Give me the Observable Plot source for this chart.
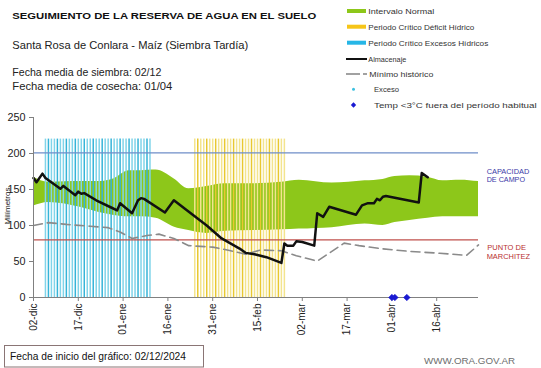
<!DOCTYPE html>
<html><head><meta charset="utf-8">
<script src="https://cdn.jsdelivr.net/npm/d3@7"></script>
<script src="https://cdn.jsdelivr.net/npm/@observablehq/plot@0.6"></script>
<style>
body{margin:0;background:#fff;}
#wrap{position:relative;width:541px;height:368px;overflow:hidden;font-family:"Liberation Sans",Arial,sans-serif;}
#wrap svg{position:absolute;left:0;top:0;}
</style></head><body><div id="wrap"></div>
<script>
// ---------- DATA ----------
const titulo = "SEGUIMIENTO DE LA RESERVA DE AGUA  EN EL SUELO";
const subtitulo = "Santa Rosa de Conlara - Maíz (Siembra Tardía)";
const fechaSiembra = "Fecha media de siembra: 02/12";
const fechaCosecha = "Fecha media de cosecha: 01/04";
const fechaInicio = "Fecha de inicio del gráfico:  02/12/2024";
const fuente = "WWW.ORA.GOV.AR";
const ejeY = "Milímetros";

const xInicio = "2024-12-02";
const xFin = "2025-04-30";

const tickFechas = ["2024-12-02","2024-12-17","2025-01-01","2025-01-16","2025-01-31","2025-02-15","2025-03-02","2025-03-17","2025-04-01","2025-04-16"];
const tickEtiquetas = ["02-dic","17-dic","01-ene","16-ene","31-ene","15-feb","02-mar","17-mar","01-abr","16-abr"];
const yTicks = [0,50,100,150,200,250];

const bandaFechas = ["2024-12-02","2024-12-07","2024-12-18","2024-12-24","2024-12-29","2025-01-03","2025-01-07","2025-01-12","2025-01-18","2025-01-23","2025-01-29","2025-02-04","2025-02-14","2025-02-23","2025-03-01","2025-03-12","2025-03-23","2025-03-29","2025-04-02","2025-04-07","2025-04-13","2025-04-18","2025-04-24","2025-04-30"];
const bandaMax = [167,160,161,161,165,176,176,177,165,151,154,158,158,160,163,159,162,164,168,169,167,162,163,161];
const bandaMin = [127,132,125,118,114,112,112,110,98,93,89,92,93,94,95,97,102,100,104,107,110,112,112,112];

const almacenajeFechas = ["2024-12-02","2024-12-03","2024-12-05","2024-12-06","2024-12-11","2024-12-12","2024-12-16","2024-12-17","2024-12-18","2024-12-19","2024-12-23","2024-12-28","2024-12-30","2024-12-31","2025-01-04","2025-01-06","2025-01-07","2025-01-08","2025-01-15","2025-01-18","2025-01-23","2025-01-29","2025-02-03","2025-02-09","2025-02-11","2025-02-14","2025-02-18","2025-02-23","2025-02-24","2025-02-25","2025-02-27","2025-02-28","2025-03-02","2025-03-06","2025-03-07","2025-03-09","2025-03-11","2025-03-20","2025-03-22","2025-03-24","2025-03-26","2025-03-27","2025-03-28","2025-03-29","2025-03-30","2025-04-10","2025-04-11","2025-04-13"];
const almacenajeMm = [166,160,172,166,151,155,142,147,144,145,135,125,121,131,117,135,138,137,118,135,119,100,82,68,62,60,56,48,75,72,72,78,77,72,117,112,126,115,128,131,131,137,135,140,141,132,173,167];

const minimoFechas = ["2024-12-02","2024-12-07","2024-12-13","2024-12-21","2024-12-27","2024-12-31","2025-01-04","2025-01-09","2025-01-13","2025-01-18","2025-01-23","2025-01-31","2025-02-06","2025-02-11","2025-02-16","2025-02-23","2025-02-28","2025-03-07","2025-03-16","2025-03-21","2025-03-28","2025-04-07","2025-04-17","2025-04-26","2025-04-30"];
const minimoMm = [100,104,101.5,99,97,91,82,86,88,82,72,70,65,60,66,65,58,50.5,75.5,72,68,64,61.5,58.5,73];

const excesoPeriodo = ["2024-12-06","2025-01-10"];
const deficitPeriodo = ["2025-01-25","2025-02-24"];
const periodoTope = 220;
const tempFechas = ["2025-04-01","2025-04-02","2025-04-06"];
const excesoFechas = [];
const capacidadCampo = 201;
const puntoMarchitez = 80;

const leyenda = ["Intervalo Normal","Periodo Crítico Déficit Hídrico","Periodo Crítico Excesos Hídricos","Almacenaje","Mínimo histórico","Exceso","Temp <3°C fuera del período habitual"];

// ---------- BUILD ----------
const W = 541, H = 368;
const parse = s => new Date(s + "T00:00:00Z");
const banda = bandaFechas.map((f,i)=>({date:parse(f), hi:bandaMax[i], lo:bandaMin[i]}));
const almacenaje = almacenajeFechas.map((f,i)=>({date:parse(f), v:almacenajeMm[i]}));
const minimo = minimoFechas.map((f,i)=>({date:parse(f), v:minimoMm[i]}));
const temp = tempFechas.map(f=>({date:parse(f)}));
const exceso = excesoFechas.map(f=>({date:parse(f)}));
const dias = (a,b) => d3.utcDay.range(parse(a), d3.utcDay.offset(parse(b),1));
const diasExc = dias(...excesoPeriodo);
const diasDef = dias(...deficitPeriodo);
const ticks = tickFechas.map(parse);
const tickMap = new Map(ticks.map((d,i)=>[+d, tickEtiquetas[i]]));

const chart = Plot.plot({
  width: W, height: H,
  marginLeft: 33, marginRight: 63, marginTop: 117, marginBottom: 71,
  style: {fontFamily: '"Liberation Sans", Arial, sans-serif', background: "transparent", color: "#222"},
  x: {type: "utc", domain: [parse(xInicio), parse(xFin)]},
  y: {domain: [0, 250]},
  marks: [
    Plot.areaY(banda, {x: "date", y1: "lo", y2: "hi", fill: "#8dc71a", curve: "monotone-x"}),
    Plot.ruleX(diasExc.filter((d,i)=>i%3!==1), {x: d=>d, y1: 0, y2: periodoTope, stroke: "#80d4e9", strokeWidth: 1.5}),
    Plot.ruleX(diasExc.filter((d,i)=>i%3===1), {x: d=>d, y1: 0, y2: periodoTope, stroke: "#36b4d8", strokeWidth: 1.5}),
    Plot.ruleX(diasDef.filter((d,i)=>i%3!==1), {x: d=>d, y1: 0, y2: periodoTope, stroke: "#f3e48e", strokeWidth: 1.5}),
    Plot.ruleX(diasDef.filter((d,i)=>i%3===1), {x: d=>d, y1: 0, y2: periodoTope, stroke: "#e8c830", strokeWidth: 1.5}),
    Plot.ruleY([capacidadCampo], {stroke: "#6f8ec8", strokeWidth: 1.2}),
    Plot.ruleY([puntoMarchitez], {stroke: "#c0504d", strokeWidth: 1.2}),
    Plot.line(minimo, {x: "date", y: "v", stroke: "#8a8a8a", strokeWidth: 1.6, strokeDasharray: "9,5"}),
    Plot.line(almacenaje, {x: "date", y: "v", stroke: "#111", strokeWidth: 2.5, strokeLinejoin: "round"}),
    Plot.ruleX([parse(xInicio)], {stroke: "#808080"}),
    Plot.ruleY([0], {stroke: "#808080"}),
    Plot.axisY({ticks: yTicks, tickSize: 4, tickPadding: 4, fontSize: 10.8, label: null, stroke: "#808080"}),
    Plot.axisX({ticks: ticks, tickFormat: d => tickMap.get(+d), tickRotate: -90, tickSize: 4, tickPadding: 2, fontSize: 10, label: null, stroke: "#808080"}),
    Plot.dot(exceso, {x: "date", y: 0, r: 1.5, fill: "#3cc0e0"}),
    Plot.dot(temp, {x: "date", y: 0, symbol: "diamond2", r: 3, fill: "#1a1ad2", stroke: "#1a1ad2", strokeWidth: 0.5})
  ]
});
document.getElementById("wrap").appendChild(chart);

// ---------- TEXT OVERLAY ----------
const ov = d3.select("#wrap").append("svg").attr("width", W).attr("height", H)
  .style("font-family", '"Liberation Sans", Arial, sans-serif').style("pointer-events","none");
function txt(x, y, s, o = {}) {
  const t = ov.append("text").attr("x", x).attr("y", y).text(s)
    .attr("font-size", o.size || 10).attr("fill", o.fill || "#222")
    .attr("font-weight", o.weight || "normal");
  if (o.len) t.attr("textLength", o.len).attr("lengthAdjust", "spacingAndGlyphs");
  if (o.anchor) t.attr("text-anchor", o.anchor);
  if (o.transform) t.attr("transform", o.transform);
  return t;
}
txt(12.3, 18.5, titulo, {size: 9.8, weight: "bold", fill: "#111", len: 304});
txt(12.3, 49, subtitulo, {size: 11, len: 236});
txt(12.3, 76, fechaSiembra, {size: 11, len: 149});
txt(12.3, 89.5, fechaCosecha, {size: 11, len: 160});

// legend
const ly = [11, 26.7, 42.7, 59, 74, 89.3, 105];
const lx = [368.3, 368.3, 368.3, 368.3, 369.3, 374, 374];
const ll = [66, 106, 120, 38, 64, 25, 162.7];
ov.append("rect").attr("x", 347).attr("y", ly[0]-2).attr("width", 19).attr("height", 4).attr("fill", "#8dc71a");
ov.append("rect").attr("x", 347).attr("y", ly[1]-2).attr("width", 19).attr("height", 4).attr("fill", "#f6c518");
ov.append("rect").attr("x", 347).attr("y", ly[2]-2).attr("width", 19).attr("height", 4).attr("fill", "#26b6e6");
ov.append("line").attr("x1", 346).attr("x2", 367).attr("y1", ly[3]).attr("y2", ly[3]).attr("stroke", "#111").attr("stroke-width", 2);
ov.append("line").attr("x1", 346).attr("x2", 360).attr("y1", ly[4]).attr("y2", ly[4]).attr("stroke", "#8a8a8a").attr("stroke-width", 1.6);
ov.append("line").attr("x1", 363).attr("x2", 367).attr("y1", ly[4]).attr("y2", ly[4]).attr("stroke", "#8a8a8a").attr("stroke-width", 1.6);
ov.append("circle").attr("cx", 353.5).attr("cy", ly[5]).attr("r", 1.5).attr("fill", "#3cc0e0");
ov.append("path").attr("d", d3.symbol(d3.symbolDiamond2, 18)()).attr("transform", `translate(353.5,${ly[6]})`).attr("fill", "#1a1ad2");
leyenda.forEach((s,i) => txt(lx[i], ly[i] + 2.9, s, {size: 8, len: ll[i], fill: "#333"}));

// axis title
txt(0, 0, ejeY, {size: 8, anchor: "middle", transform: "translate(9.5,206) rotate(-90)"});

// right labels
txt(486.7, 173.5, "CAPACIDAD", {size: 8, fill: "#3a3aa8", len: 42.6});
txt(486.7, 182, "DE  CAMPO", {size: 8, fill: "#3a3aa8", len: 38.3});
txt(487.3, 249.5, "PUNTO  DE", {size: 8, fill: "#b83030", len: 38.7});
txt(486.7, 258.5, "MARCHITEZ", {size: 8, fill: "#b83030", len: 43.3});

// footer
ov.append("rect").attr("x", 4.5).attr("y", 345.5).attr("width", 199).attr("height", 21.5).attr("fill", "none").attr("stroke", "#8a7575").attr("stroke-width", 1);
txt(10, 360, fechaInicio, {size: 10.5, len: 176, fill: "#111"});
txt(424, 364, fuente, {size: 9.5, fill: "#6e6e6e", len: 91});
</script></body></html>
